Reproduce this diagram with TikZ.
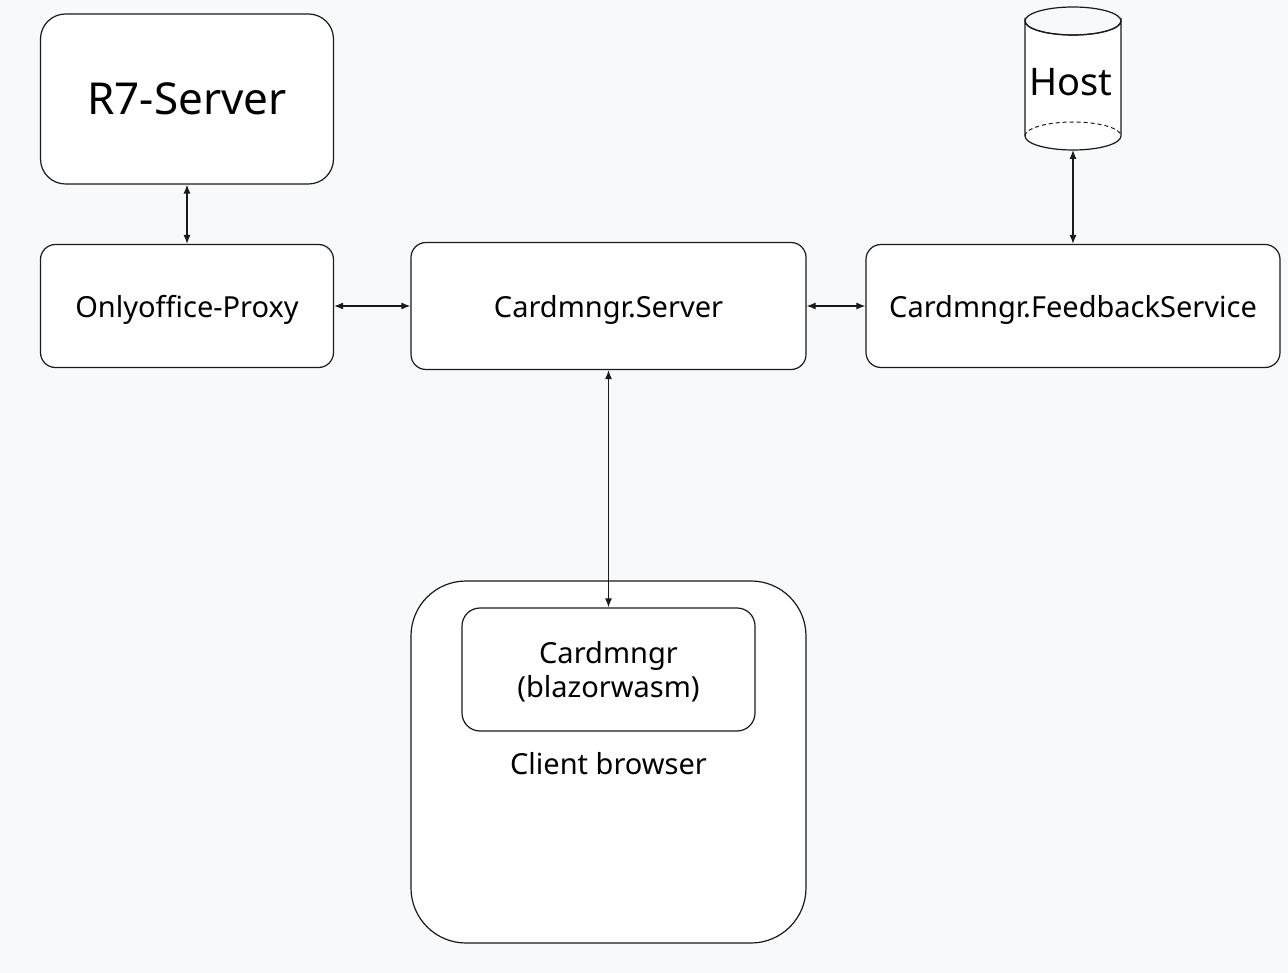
\documentclass[tikz,border=0pt]{standalone}
\usepackage{fontspec}
\setmainfont{Noto Sans}
\usetikzlibrary{arrows.meta,shapes.geometric}
\definecolor{bg}{HTML}{F8F9FA}
\definecolor{ink}{HTML}{1A1A1A}
\tikzset{
  box/.style={draw=ink, line width=1.2pt, fill=white, rounded corners=#1, inner sep=0pt},
  box/.default=15pt,
  lbl/.style={font=\fontsize{29}{34}\selectfont, text=black, align=center},
  link/.style={draw=ink, line width=1.2pt, {Latex[length=9pt,width=7pt]}-{Latex[length=9pt,width=7pt]}}
}
\begin{document}
\begin{tikzpicture}[x=1pt,y=-1pt]
\fill[bg] (0,0) rectangle (1288,973);
\useasboundingbox (0,0) rectangle (1288,973);
% boxes
\node[box=25pt, minimum width=293pt, minimum height=170pt] (r7) at (187,99) {};
\node[font=\fontsize{44}{50}\selectfont, text depth=0pt] (r7t) at (187,99) {R7-Server};
\node[box, minimum width=293pt, minimum height=123pt, lbl, text depth=0pt] (proxy) at (187,306) {Onlyoffice-Proxy};
\node[box, minimum width=395pt, minimum height=127pt, lbl, text depth=0pt] (server) at (608.5,306) {Cardmngr.Server};
\node[box, minimum width=414pt, minimum height=123pt, lbl, text depth=0pt] (feed) at (1073,306) {Cardmngr.FeedbackService};
\node[box=55pt, minimum width=395pt, minimum height=362pt] (client) at (608.5,762) {};
\node[box=18pt, minimum width=293pt, minimum height=123pt] (wasm) at (608.5,669.5) {};
\node[lbl] (wasmt) at (608.5,672) {Cardmngr\\(blazorwasm)};
\node[lbl, text depth=0pt] (clientt) at (608.5,763) {Client browser};
% host cylinder
\path[draw=ink, line width=1.2pt, fill=white] (1025,21) -- (1025,136) arc[start angle=180, end angle=360, x radius=48pt, y radius=14pt] -- (1121,21) arc[start angle=0, end angle=-180, x radius=48pt, y radius=14pt] -- cycle;
\draw[ink, line width=1.2pt] (1073,21) ellipse[x radius=48pt, y radius=14pt];
\draw[ink, line width=1pt, dash pattern=on 4pt off 3pt] (1025,136) arc[start angle=180, end angle=0, x radius=48pt, y radius=14pt];
\node[font=\fontsize{38}{44}\selectfont, text depth=0pt] (host) at (1071,82) {Host};
\coordinate (hostb) at (1073,150);
% connectors
\draw[link] (r7.south) -- (proxy.north);
\draw[link] (proxy.east) -- (server.west);
\draw[link] (server.east) -- (feed.west);
\draw[link] (hostb) -- (feed.north);
\draw[link] (server.south) -- (wasm.north);
\end{tikzpicture}
\end{document}
